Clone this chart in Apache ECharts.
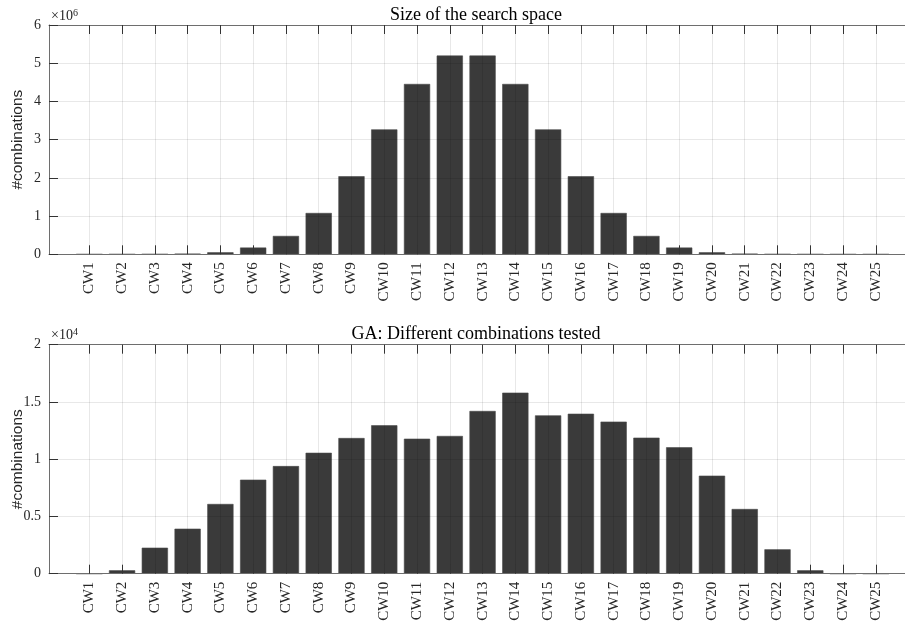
<!DOCTYPE html>
<html>
<head>
<meta charset="utf-8">
<script src="https://cdn.jsdelivr.net/npm/echarts@6/dist/echarts.min.js"></script>
<style>html,body{margin:0;padding:0;background:#fff}#c{width:905px;height:623px}</style>
</head>
<body>
<div id="c"></div>
<script>
const categories = ['CW1','CW2','CW3','CW4','CW5','CW6','CW7','CW8','CW9','CW10','CW11','CW12','CW13','CW14','CW15','CW16','CW17','CW18','CW19','CW20','CW21','CW22','CW23','CW24','CW25'];
const searchSpace = [25, 300, 2300, 12650, 53130, 177100, 480700, 1081575, 2042975, 3268760, 4457400, 5200300, 5200300, 4457400, 3268760, 2042975, 1081575, 480700, 177100, 53130, 12650, 2300, 300, 25, 1];
const gaTested = [0, 300, 2270, 3930, 6090, 8210, 9400, 10560, 11850, 12960, 11790, 12030, 14210, 15810, 13830, 13970, 13280, 11880, 11040, 8560, 5650, 2130, 300, 0, 0];
const topTicks = [0, 1, 2, 3, 4, 5, 6];
const bottomTicks = [0, 0.5, 1, 1.5, 2];

const positions = categories.map((c, i) => i + 1);
const serif = 'Liberation Serif';
const axisCol = '#6e6e6e';
const gridCol = 'rgba(0,0,0,0.09)';

function xAxes(gi) {
  const base = {
    type: 'value', gridIndex: gi, min: -0.23, max: 25.89, z: 3,
    axisLine: {show: true, onZero: false, lineStyle: {color: axisCol, width: 1}},
    axisTick: {show: true, inside: true, length: 9, customValues: positions, lineStyle: {color: '#333'}}
  };
  return [
    Object.assign({}, base, {
      position: 'bottom',
      axisLabel: {customValues: positions, rotate: 90, margin: 8, fontFamily: serif, fontSize: 15, color: '#262626',
        hideOverlap: false, formatter: v => categories[Math.round(v) - 1] || ''},
      splitLine: {show: true, lineStyle: {color: gridCol, width: 1}}
    }),
    Object.assign({}, base, {
      position: 'top', axisLabel: {show: false}, splitLine: {show: false}
    })
  ];
}

function yAxis(gi, max, interval, scale, ticks) {
  return {
    type: 'value', gridIndex: gi, min: 0, max: max, interval: interval, z: 3,
    name: '#combinations', nameLocation: 'middle', nameGap: 23, nameMoveOverlap: false,
    nameTextStyle: {fontFamily: 'Liberation Sans', fontSize: 15.5, color: '#262626'},
    axisLine: {show: true, onZero: false, lineStyle: {color: axisCol, width: 1}},
    axisTick: {show: true, inside: true, length: 9, lineStyle: {color: '#333'}},
    axisLabel: {fontFamily: serif, fontSize: 14, color: '#262626', margin: 8,
      formatter: v => { const t = ticks.find(k => Math.abs(k * scale - v) < 1e-6 * scale); return t === undefined ? '' : String(t); }},
    splitLine: {show: true, lineStyle: {color: gridCol, width: 1}}
  };
}

const barStyle = {color: '#3a3a3a', borderColor: '#4a4a4a', borderWidth: 0.6};
const expRich = {a: {fontFamily: serif, fontSize: 14, fill: '#262626'}, b: {fontFamily: serif, fontSize: 10, fill: '#262626', verticalAlign: 'top', padding: [0, 0, 7, 0]}};

const chart = echarts.init(document.getElementById('c'), null, {renderer: 'canvas'});
chart.setOption({
  animation: false,
  backgroundColor: '#fff',
  title: [
    {text: 'Size of the search space', left: 471, top: 1, textAlign: 'center',
      textStyle: {fontFamily: serif, fontSize: 18, fontWeight: 'normal', color: '#000'}},
    {text: 'GA: Different combinations tested', left: 471, top: 320, textAlign: 'center',
      textStyle: {fontFamily: serif, fontSize: 18, fontWeight: 'normal', color: '#000'}}
  ],
  graphic: [
    {type: 'text', left: 51, top: 8, style: {text: '{a|×10}{b|6}', rich: expRich}},
    {type: 'text', left: 51, top: 327, style: {text: '{a|×10}{b|4}', rich: expRich}}
  ],
  grid: [
    {left: 49, top: 25, right: 0, height: 229.3, containLabel: false, outerBoundsMode: 'none'},
    {left: 49, top: 344.7, right: 0, height: 229, containLabel: false, outerBoundsMode: 'none'}
  ],
  xAxis: xAxes(0).concat(xAxes(1)),
  yAxis: [yAxis(0, 6e6, 1e6, 1e6, topTicks), yAxis(1, 2e4, 5e3, 1e4, bottomTicks)],
  series: [
    {type: 'bar', xAxisIndex: 0, yAxisIndex: 0, barWidth: '80%', itemStyle: barStyle,
      data: positions.map((p, i) => [p, searchSpace[i]])},
    {type: 'bar', xAxisIndex: 2, yAxisIndex: 1, barWidth: '80%', itemStyle: barStyle,
      data: positions.map((p, i) => [p, gaTested[i]])}
  ]
});
</script>
</body>
</html>
